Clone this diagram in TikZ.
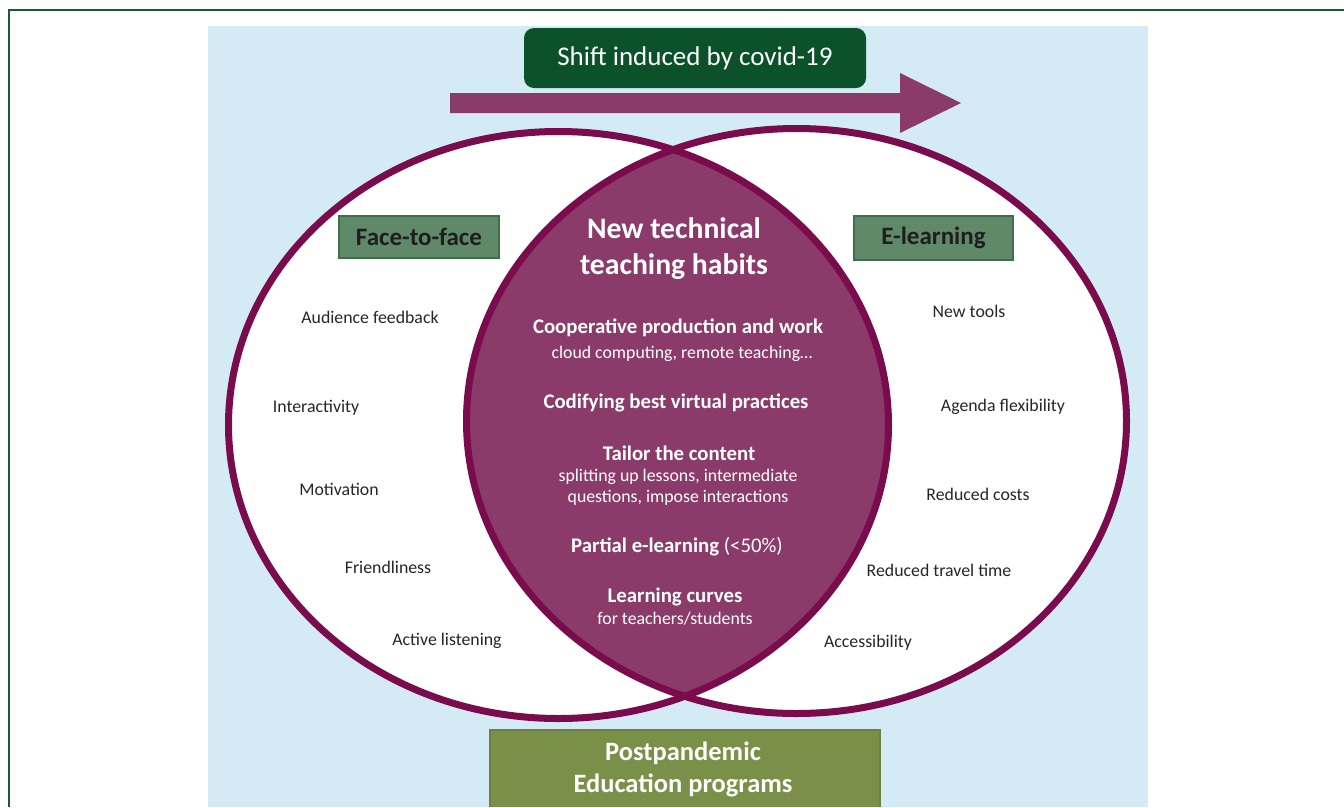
\documentclass[tikz,border=0pt]{standalone}
\usepackage{fontspec}
\setmainfont{Carlito}
\definecolor{framegreen}{HTML}{1B5A33}
\definecolor{panelblue}{HTML}{D4EBF5}
\definecolor{ringc}{HTML}{7A0C4E}
\definecolor{lensc}{HTML}{8B3B69}
\definecolor{shiftgreen}{HTML}{0B5129}
\definecolor{tagfill}{HTML}{5F8968}
\definecolor{tagdraw}{HTML}{3F6E48}
\definecolor{olive}{HTML}{7A8F48}
\definecolor{olivedraw}{HTML}{6C8040}
\definecolor{itemgray}{HTML}{262626}
\definecolor{tagtext}{HTML}{1E1E1E}
\begin{document}
\begin{tikzpicture}[x=1pt,y=-1pt,
  item/.style={text=itemgray, font=\fontsize{17.8}{21}\selectfont, inner sep=0pt},
  habit/.style={text=white, font=\bfseries\fontsize{20.8}{24}\selectfont, inner sep=0pt},
  habitsub/.style={text=white, font=\fontsize{17.8}{21}\selectfont, inner sep=0pt, align=center},
  tagbox/.style={fill=tagfill, draw=tagdraw, line width=1.2, text=tagtext,
    font=\bfseries\fontsize{25}{30}\selectfont, inner sep=0pt},
  ring/.style={draw=ringc, line width=7}]
\useasboundingbox (0,0) rectangle (1344,807);

% page frame and light blue panel
\fill[white] (0,0) rectangle (1344,807);
\fill[panelblue] (208,26) rectangle (1148,807);
\draw[framegreen, line width=2.5] (9,807) -- (9,10) -- (1344,10);

% heading box and the shift arrow
\node[fill=shiftgreen, rounded corners=10, minimum width=342, minimum height=60,
  inner sep=0pt, text=white, font=\fontsize{27}{30}\selectfont] (shift) at (695,58)
  {Shift induced by covid-19};
\fill[lensc] (450,93) -- (900,93) -- (900,73) -- (961,103) -- (900,133)
  -- (900,113) -- (450,113) -- cycle;

% the two sets and their overlap
\fill[white] (558.5,425) ellipse [x radius=330, y radius=293.5];
\fill[white] (796.5,421) ellipse [x radius=330, y radius=292.5];
\begin{scope}
  \clip (558.5,425) ellipse [x radius=330, y radius=293.5];
  \fill[lensc] (796.5,421) ellipse [x radius=330, y radius=292.5];
\end{scope}
\draw[ring] (558.5,425) ellipse [x radius=330, y radius=293.5];
\draw[ring] (796.5,421) ellipse [x radius=330, y radius=292.5];

% set labels
\node[tagbox, minimum width=160, minimum height=42] (f2f) at (419,237) {Face-to-face};
\node[tagbox, minimum width=159, minimum height=44] (elearn) at (933.5,238) {E-learning};

% face-to-face items
\node[item] (aud) at (370,317) {Audience feedback};
\node[item] (inter) at (316,408) {Interactivity};
\node[item] (motiv) at (339,489) {Motivation};
\node[item] (friend) at (388,567) {Friendliness};
\node[item] (listen) at (447,641) {Active listening};

% e-learning items
\node[item] (tools) at (969,311) {New tools};
\node[item] (agenda) at (1003,407) {Agenda flexibility};
\node[item] (costs) at (978,494) {Reduced costs};
\node[item] (travel) at (939,570) {Reduced travel time};
\node[item] (access) at (868,643) {Accessibility};

% overlap: new habits
\node[text=white, font=\bfseries\fontsize{29.7}{36}\selectfont, align=center, inner sep=0pt]
  (title) at (674,249) {New technical\\teaching habits};
\node[habit] (coop) at (678,328) {Cooperative production and work};
\node[habitsub] (coopsub) at (682,354) {cloud computing, remote teaching…};
\node[habit] (codify) at (676,403) {Codifying best virtual practices};
\node[habit] (tailor) at (679,453) {Tailor the content};
\node[habitsub] (tailorsub) at (678,487) {splitting up lessons, intermediate\\questions, impose interactions};
\node[habit] (partial) at (677,547) {Partial e-learning \mdseries(<50\%)};
\node[habit] (curves) at (675,597) {Learning curves};
\node[habitsub] (curvessub) at (675,619) {for teachers/students};

% outcome box, running off the lower edge
\fill[olive] (490,730) rectangle (880,807);
\draw[olivedraw, line width=1.2] (490,807) -- (490,730) -- (880,730) -- (880,807);
\node[text=white, font=\bfseries\fontsize{26.5}{32}\selectfont, align=center, inner sep=0pt]
  (post) at (683,769) {Postpandemic\\Education programs};
\end{tikzpicture}
\end{document}
